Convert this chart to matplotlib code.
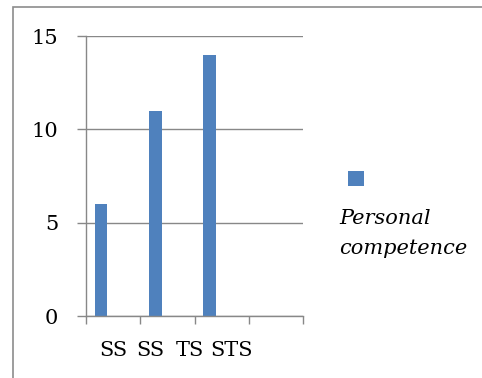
import matplotlib
matplotlib.use("Agg")
import matplotlib.pyplot as plt
from matplotlib.patches import Rectangle
from matplotlib.transforms import IdentityTransform

# Data
categories = ["SS", "SS", "TS", "STS"]
values = [6, 11, 14, 0]
series_name = "Personal competence"
y_ticks = [0, 5, 10, 15]

# Styling
BAR_COLOR = "#4F81BD"
GRID_COLOR = "#888888"
FONT = "DejaVu Serif"
FS = 15

W, H = 482, 378
fig = plt.figure(figsize=(W / 100, H / 100), dpi=100)

def px_rect(x0, y0, x1, y1):
    """Figure-fraction rect from top-left pixel coordinates."""
    return [x0 / W, 1 - y1 / H, (x1 - x0) / W, (y1 - y0) / H]

ax = fig.add_axes(px_rect(86, 36, 303, 316))

n = len(categories)
slot = list(range(n))
bar_offset = 0.28
bar_width = 0.23
ax.bar([s + bar_offset for s in slot], values, width=bar_width,
       color=BAR_COLOR, zorder=3)

ax.set_xlim(0, n)
ax.set_ylim(0, 15)

# Horizontal gridlines, extended to the left as tick marks
ax.set_yticks(y_ticks)
ax.yaxis.grid(True, color=GRID_COLOR, linewidth=1.0, zorder=1)
ax.tick_params(axis="y", length=6.5, width=1.0, color=GRID_COLOR, pad=13.5,
               labelsize=FS)
for lab in ax.get_yticklabels():
    lab.set_fontfamily(FONT)

# Category boundary ticks on x axis
ax.set_xticks(range(n + 1))
ax.set_xticklabels([])
ax.tick_params(axis="x", length=5.8, width=1.0, color=GRID_COLOR)

# Category labels
label_x = [0.50, 1.18, 1.92, 2.69]
for x, c in zip(label_x, categories):
    ax.text(x, -0.125, c, transform=ax.get_xaxis_transform(),
            ha="center", va="center", fontsize=FS, family=FONT)

for side in ["top", "right"]:
    ax.spines[side].set_visible(False)
for side in ["left", "bottom"]:
    ax.spines[side].set_color(GRID_COLOR)
    ax.spines[side].set_linewidth(1.0)
    ax.spines[side].set_zorder(4)

# Chart area border (runs off the right and bottom edges)
fig.patches.append(Rectangle((12.5, -20), W + 20, (H - 6.5) + 20,
                             transform=IdentityTransform(), fill=False,
                             edgecolor="#8c8c8c", linewidth=1.2))

# Legend: swatch above the wrapped series name
fig.patches.append(Rectangle((348, H - 186), 16, 15,
                             transform=IdentityTransform(),
                             facecolor=BAR_COLOR, edgecolor="none"))
baselines = [224, 254]
for word, yb in zip(series_name.split(" "), baselines):
    fig.text(339 / W, 1 - yb / H, word, ha="left", va="baseline",
             fontsize=FS, family=FONT, style="italic")

fig.savefig("out.png", dpi=100)
